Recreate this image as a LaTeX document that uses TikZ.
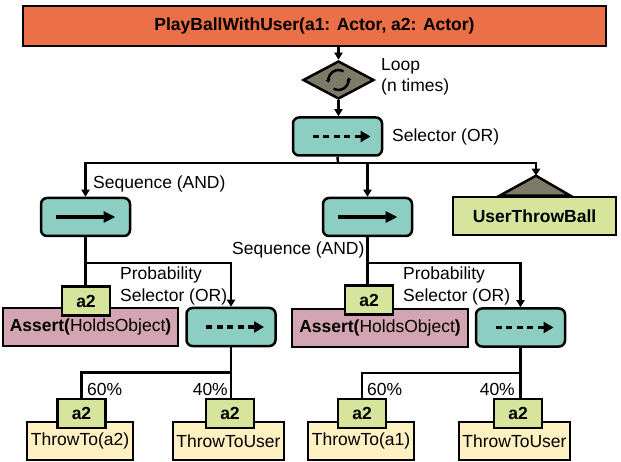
\documentclass[tikz,border=0pt]{standalone}
\usepackage{fontspec}
\setmainfont{Liberation Sans}
\usepackage{tikz}
\usetikzlibrary{arrows.meta, shapes.geometric, calc}
\definecolor{btOrange}{HTML}{EB6F47}
\definecolor{btTeal}{HTML}{8DCEC2}
\definecolor{btGray}{HTML}{7E7A6A}
\definecolor{btLime}{HTML}{D6E49C}
\definecolor{btRose}{HTML}{D3A5B3}
\definecolor{btCream}{HTML}{FDF1C1}

\begin{document}
\begin{tikzpicture}[x=1pt, y=-1pt, >={Triangle[length=7pt,width=8pt]},
  font=\fontsize{17.5}{21}\selectfont,
  box/.style={draw=black, line width=2.5pt, inner sep=0pt},
  ctrl/.style={box, fill=btTeal, rounded corners=6pt, minimum width=89pt, minimum height=38pt},
  tag/.style={box, fill=btLime, font=\fontsize{17.5}{21}\selectfont\bfseries, minimum width=48pt, minimum height=29pt},
  leaf/.style={box, fill=btCream, minimum height=38pt},
  lbl/.style={inner sep=0pt, align=left},
  wire/.style={line width=2.5pt}]
  \useasboundingbox (0,0) rectangle (621,462);

  % Root and loop
  \node[box, fill=btOrange, minimum width=583pt, minimum height=40pt, font=\fontsize{17.5}{21}\selectfont\bfseries] (title) at (314.5,26) {PlayBallWithUser(a1: Actor, a2: Actor)};
  \node[box, diamond, aspect=1.87, fill=btGray, minimum width=71pt, minimum height=38pt] (loop) at (338.5,80) {};
  \draw[line width=2.5pt, -{Triangle[length=3pt,width=5pt]}] ($(loop.center)+(-60:10)$) arc[start angle=-60, end angle=-195, radius=10];
  \draw[line width=2.5pt, -{Triangle[length=3pt,width=5pt]}] ($(loop.center)+(-240:10)$) arc[start angle=-240, end angle=-375, radius=10];
  \node[lbl, anchor=west] (loopLbl) at (381,77) {Loop\\(n times)};

  \node[ctrl] (sel) at (337.5,136.5) {};
  \draw[line width=3.5pt, dash pattern=on 6pt off 4.5pt, -{Triangle[length=10pt,width=11pt]}] ([xshift=-25pt]sel.center) -- ([xshift=33pt]sel.center);
  \node[lbl, anchor=west] (selLbl) at (392,137) {Selector (OR)};

  \draw[wire,->] (title.south -| loop.north) -- (loop.north);
  \draw[wire,->] (loop.south) -- (sel.north -| loop.south);

  % Second level
  \node[ctrl] (seq1) at (85.5,217) {};
  \draw[line width=3.5pt, -{Triangle[length=12pt,width=11pt]}] ([xshift=-30pt]seq1.center) -- ([xshift=30pt]seq1.center);
  \node[lbl, anchor=west] (seqLbl1) at (93,184) {Sequence (AND)};

  \node[ctrl] (seq2) at (367.5,217) {};
  \draw[line width=3.5pt, -{Triangle[length=12pt,width=11pt]}] ([xshift=-30pt]seq2.center) -- ([xshift=30pt]seq2.center);
  \node[lbl, anchor=west] (seqLbl2) at (232,250) {Sequence (AND)};

  \node[box, fill=btLime, minimum width=163pt, minimum height=38pt, font=\fontsize{17.5}{21}\selectfont\bfseries] (user) at (534.5,216) {UserThrowBall};
  \coordinate (userTop) at ([xshift=1.5pt,yshift=20pt]user.north);
  \filldraw[fill=btGray, line width=2.5pt, line join=miter] ([xshift=-35pt]user.north) -- (userTop) -- ([xshift=36pt]user.north) -- cycle;

  \coordinate (bus) at (338,163);
  \draw[wire] (sel.south) -- (bus);
  \draw[wire,->] (bus) -| (seq1.north);
  \draw[wire,->] (bus) -| (seq2.north);
  \draw[wire,->] (bus) -| (userTop);

  % Left branch
  \node[box, fill=btRose, minimum width=175pt, minimum height=38pt] (assert1) at (90.5,327) {\textbf{Assert(}HoldsObject\textbf{)}};
  \node[tag] (tag1) at (86,301) {a2};
  \node[ctrl] (prob1) at (231,327) {};
  \draw[line width=3.5pt, dash pattern=on 6pt off 4.5pt, -{Triangle[length=10pt,width=11pt]}] ([xshift=-25pt]prob1.center) -- ([xshift=33pt]prob1.center);
  \node[lbl, anchor=west, font=\fontsize{17.5}{22}\selectfont] (probLbl1) at (120,286) {Probability\\Selector (OR)};
  \draw[wire] (seq1.south) -- (seq1.south |- tag1.north);
  \draw[wire,->] (seq1.south) ++(0,26) -| (prob1.north);

  \node[leaf, minimum width=106pt] (leaf1) at (80,441) {ThrowTo(a2)};
  \node[tag] (tagL1) at (81.5,413.5) {a2};
  \node[leaf, minimum width=111pt] (leaf2) at (228.5,441) {ThrowToUser};
  \node[tag] (tagL2) at (230,413.5) {a2};
  \draw[wire] (prob1.south) -- (prob1.south |- tagL2.north);
  \draw[wire] (prob1.south) ++(0,25) -| (tagL1.north);
  \node[lbl, anchor=west] (pct1) at (87,389) {60\%};
  \node[lbl, anchor=east] (pct2) at (228,389) {40\%};

  % Right branch
  \node[box, fill=btRose, minimum width=176pt, minimum height=38pt] (assert2) at (380,328) {\textbf{Assert(}HoldsObject\textbf{)}};
  \node[tag] (tag2) at (369,300) {a2};
  \node[ctrl] (prob2) at (520.5,327.5) {};
  \draw[line width=3.5pt, dash pattern=on 6pt off 4.5pt, -{Triangle[length=10pt,width=11pt]}] ([xshift=-25pt]prob2.center) -- ([xshift=33pt]prob2.center);
  \node[lbl, anchor=west, font=\fontsize{17.5}{22}\selectfont] (probLbl2) at (403,286) {Probability\\Selector (OR)};
  \draw[wire] (seq2.south) -- (seq2.south |- tag2.north);
  \draw[wire,->] (seq2.south) ++(0,26) -| (prob2.north);

  \node[leaf, minimum width=106pt] (leaf3) at (361,441) {ThrowTo(a1)};
  \node[tag] (tagL3) at (362,413.5) {a2};
  \node[leaf, minimum width=111pt] (leaf4) at (514.5,441) {ThrowToUser};
  \node[tag] (tagL4) at (518,413.5) {a2};
  \draw[wire] (prob2.south) -- (prob2.south |- tagL4.north);
  \draw[wire] (prob2.south) ++(0,25) -| (tagL3.north);
  \node[lbl, anchor=west] (pct3) at (367,389) {60\%};
  \node[lbl, anchor=east] (pct4) at (515,389) {40\%};
\end{tikzpicture}
\end{document}
